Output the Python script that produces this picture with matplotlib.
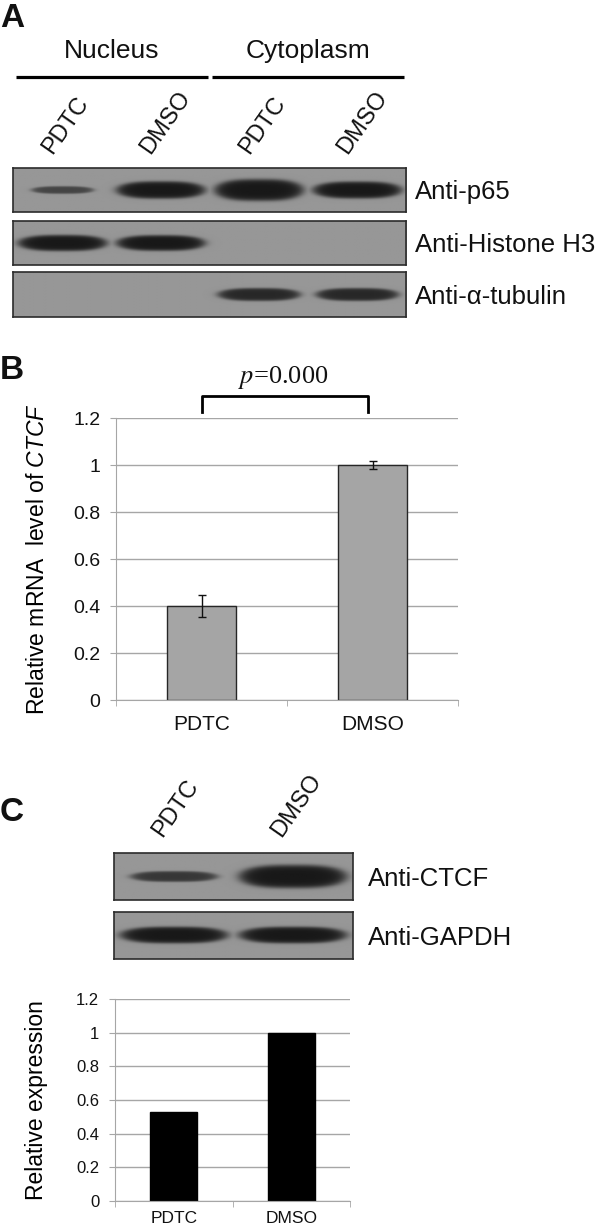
"""Nuclear p65 blots, CTCF mRNA bar chart and CTCF western blot quantification."""

import matplotlib
import numpy as np

matplotlib.use("Agg")
from matplotlib import pyplot as plt
from matplotlib.transforms import blended_transform_factory

plt.rcParams["font.family"] = ["Liberation Sans", "DejaVu Sans"]
plt.rcParams["mathtext.fontset"] = "custom"
plt.rcParams["mathtext.rm"] = "Liberation Sans"
plt.rcParams["mathtext.it"] = "Liberation Sans:italic"
plt.rcParams["text.color"] = "#111111"
plt.rcParams["xtick.color"] = "#111111"
plt.rcParams["ytick.color"] = "#111111"

W, H = 600, 1229

# panel A: relative band strength per lane
A_GROUPS = ["Nucleus", "Cytoplasm"]
A_LANES = ["PDTC", "DMSO", "PDTC", "DMSO"]
P65 = [0.35, 0.80, 1.00, 0.78]
HISTONE_H3 = [0.74, 0.72, 0.0, 0.0]
TUBULIN = [0.0, 0.0, 0.58, 0.58]
A_BLOT_NAMES = ["Anti-p65", "Anti-Histone H3", "Anti-α-tubulin"]

# panel B: qPCR
B_GROUPS = ["PDTC", "DMSO"]
B_MRNA = [0.40, 1.00]
B_ERR = [0.048, 0.016]
B_PVALUE = "0.000"

# panel C: western blot + quantification
C_LANES = ["PDTC", "DMSO"]
CTCF = [0.46, 1.00]
GAPDH = [0.70, 0.70]
C_BLOT_NAMES = ["Anti-CTCF", "Anti-GAPDH"]
C_EXPRESSION = [0.53, 1.00]

GRID = "#a6a6a6"


def px_axes(fig, left, top, right, bottom):
    """Axes placed by pixel box of the 600x1229 figure."""
    return fig.add_axes([left / W, 1 - bottom / H, (right - left) / W, (bottom - top) / H])


def draw_blot(ax, strengths):
    """Grey membrane with one dark band per lane, size from strength."""
    n = len(strengths)
    gx, gy = np.meshgrid(np.linspace(0, n, 90 * n), np.linspace(0, 1, 60))
    background = 0.59
    img = np.full(gx.shape, background)
    for i, s in enumerate(strengths):
        if s <= 0:
            continue
        half_w = 0.44 * min(1.0, 0.35 + s)
        half_h = 0.24 * s
        r = np.abs((gx - (i + 0.5)) / half_w) ** 3 + ((gy - 0.5) / half_h) ** 2
        mask = 1 / (1 + np.exp((r - 1) * 4.5))
        dark = background - 0.5 * min(1.0, 0.3 + s)
        img = np.minimum(img, background - (background - dark) * mask)
    ax.imshow(img, cmap="gray", vmin=0, vmax=1, extent=(0, n, 0, 1),
              aspect="auto", origin="lower", interpolation="bilinear")
    ax.set_xlim(0, n)
    ax.set_ylim(0, 1)
    ax.set_xticks([])
    ax.set_yticks([])
    for spine in ax.spines.values():
        spine.set_color("#2b2b2b")
        spine.set_linewidth(1.2)


def blot_name(ax, name, gap):
    ax.annotate(name, xy=(1, 0.5), xycoords="axes fraction", xytext=(gap, 0),
                textcoords="offset pixels", ha="left", va="center_baseline",
                fontsize=18.5, annotation_clip=False)


def lane_labels(ax, labels, gap):
    for i, label in enumerate(labels):
        ax.annotate(label, xy=(i + 0.4, 1), xycoords=("data", "axes fraction"),
                    xytext=(0, gap), textcoords="offset pixels", rotation=55,
                    rotation_mode="anchor", ha="left", va="baseline",
                    fontsize=17, annotation_clip=False)


def excel_bars(ax, groups, values, color, edge, ylabel, label_x, tick_size, x_size, x_pad):
    x = np.arange(len(groups))
    bars = ax.bar(x, values, width=0.4, color=color, edgecolor=edge, linewidth=1, zorder=2)
    ax.set_xlim(-0.5, len(groups) - 0.5)
    ax.set_ylim(0, 1.2)
    ticks = np.round(np.arange(0, 1.21, 0.2), 1)
    ax.set_yticks(ticks, [f"{t:g}" for t in ticks])
    ax.set_xticks(x, groups)
    ax.set_xticks(np.arange(len(groups) + 1) - 0.5, minor=True)
    ax.yaxis.grid(True, color=GRID, linewidth=1)
    ax.set_axisbelow(True)
    for side in ("top", "right"):
        ax.spines[side].set_visible(False)
    for side in ("left", "bottom"):
        ax.spines[side].set_color(GRID)
    ax.tick_params(axis="y", length=4.3, color=GRID, pad=7, labelsize=tick_size)
    ax.tick_params(axis="x", which="major", length=0, pad=x_pad, labelsize=x_size)
    ax.tick_params(axis="x", which="minor", length=4.3, color=GRID)
    ax.set_ylabel(ylabel, fontsize=16.5)
    ax.yaxis.set_label_coords(label_x, 0.5)
    return x, bars


fig = plt.figure(figsize=(W / 100, H / 100), dpi=100)

# ---- A ----
fig.text(0, 1 - 27 / H, "A", fontsize=24, weight="bold", va="baseline")
blot_boxes = [(13, 168, 406, 212), (13, 221, 406, 265), (13, 272, 406, 317)]
a_axes = []
for box, strengths, name in zip(blot_boxes, (P65, HISTONE_H3, TUBULIN), A_BLOT_NAMES):
    ax = px_axes(fig, *box)
    draw_blot(ax, strengths)
    blot_name(ax, name, 9)
    a_axes.append(ax)
top_blot = a_axes[0]
lane_labels(top_blot, A_LANES, 13)
group_tr = blended_transform_factory(top_blot.transData, fig.transFigure)
per_group = len(A_LANES) // len(A_GROUPS)
for g, group in enumerate(A_GROUPS):
    start, stop = g * per_group, (g + 1) * per_group
    top_blot.plot([start + 0.03, stop - 0.02], [1 - 77 / H] * 2, color="black",
                  linewidth=2.3, transform=group_tr, clip_on=False, solid_capstyle="butt")
    top_blot.text((start + stop) / 2, 1 - 58 / H, group, transform=group_tr,
                  ha="center", va="baseline", fontsize=19)
top_blot.set_xlim(0, len(A_LANES))
top_blot.set_ylim(0, 1)

# ---- B ----
fig.text(0, 1 - 379 / H, "B", fontsize=24, weight="bold", va="baseline")
ax_b = px_axes(fig, 116, 418, 458, 700)
xb, _ = excel_bars(ax_b, B_GROUPS, B_MRNA, "#a5a5a5", "#262626",
                   r"Relative mRNA  level of $\it{CTCF}$", (49 - 116) / 342, 14, 15, 11)
ax_b.errorbar(xb, B_MRNA, yerr=B_ERR, fmt="none", ecolor="#111111",
              elinewidth=1, capsize=3, capthick=1, zorder=3)
bracket_lo, bracket_hi = 1.226, 1.294
ax_b.plot([xb[0], xb[0], xb[1] - 0.025, xb[1] - 0.025],
          [bracket_lo, bracket_hi, bracket_hi, bracket_lo],
          color="black", linewidth=2, clip_on=False)
ax_b.text((xb[0] + xb[1]) / 2 - 0.02, 1.349, rf"$p$={B_PVALUE}", ha="center", va="baseline",
          fontsize=19, family="Liberation Serif", math_fontfamily="stix")

# ---- C ----
fig.text(0, 1 - 821 / H, "C", fontsize=24, weight="bold", va="baseline")
c_boxes = [(114, 853, 353, 900), (114, 912, 353, 959)]
c_axes = []
for box, strengths, name in zip(c_boxes, (CTCF, GAPDH), C_BLOT_NAMES):
    ax = px_axes(fig, *box)
    draw_blot(ax, strengths)
    blot_name(ax, name, 15)
    c_axes.append(ax)
lane_labels(c_axes[0], C_LANES, 15)

ax_c = px_axes(fig, 115, 999, 350, 1201)
excel_bars(ax_c, C_LANES, C_EXPRESSION, "black", "black",
           "Relative expression", (48 - 115) / 235, 12, 12.5, 7)

fig.savefig("out.png", dpi=100)
